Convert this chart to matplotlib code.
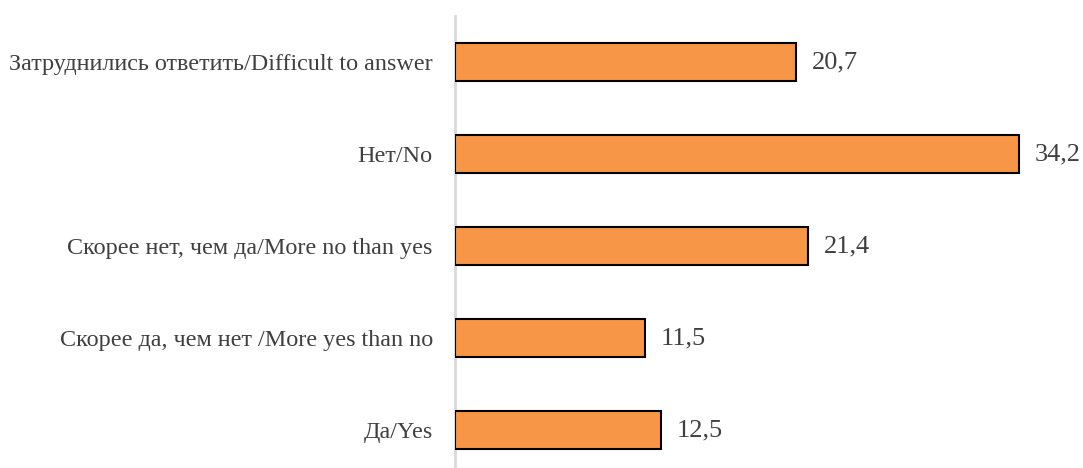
import matplotlib.pyplot as plt

categories = [
    "Затруднились ответить/Difficult to answer",
    "Нет/No",
    "Скорее нет, чем да/More no than yes",
    "Скорее да, чем нет /More yes than no",
    "Да/Yes",
]
values = [20.7, 34.2, 21.4, 11.5, 12.5]
value_labels = ["20,7", "34,2", "21,4", "11,5", "12,5"]

plt.rcParams['font.family'] = ['Liberation Serif', 'DejaVu Serif']

fig = plt.figure(figsize=(10.83, 4.68), dpi=100)
ax = fig.add_axes([455 / 1083, -8 / 468, 628 / 1083, 460 / 468])

y = list(range(len(categories)))[::-1]
ax.barh(y, values, height=0.41, color="#F79646", edgecolor="black", linewidth=1.5, zorder=2)

for yi, v, lab in zip(y, values, value_labels):
    ax.annotate(lab, (v, yi), xytext=(11.5, 0), textcoords="offset points",
                va="center", ha="left", fontsize=19, color="#404040",
                annotation_clip=False)

ax.set_xlim(0, 38.08)
ax.set_ylim(-0.5, len(categories) - 0.5)
ax.set_yticks(y)
ax.set_yticklabels(categories, fontsize=17.4, color="#404040")
ax.tick_params(axis="y", length=0, pad=16)
ax.set_xticks([])

for s in ["top", "right", "bottom"]:
    ax.spines[s].set_visible(False)
ax.spines["left"].set_color("#D9D9D9")
ax.spines["left"].set_linewidth(2)
ax.spines["left"].set_zorder(1)

fig.savefig("out.png", dpi=100)
